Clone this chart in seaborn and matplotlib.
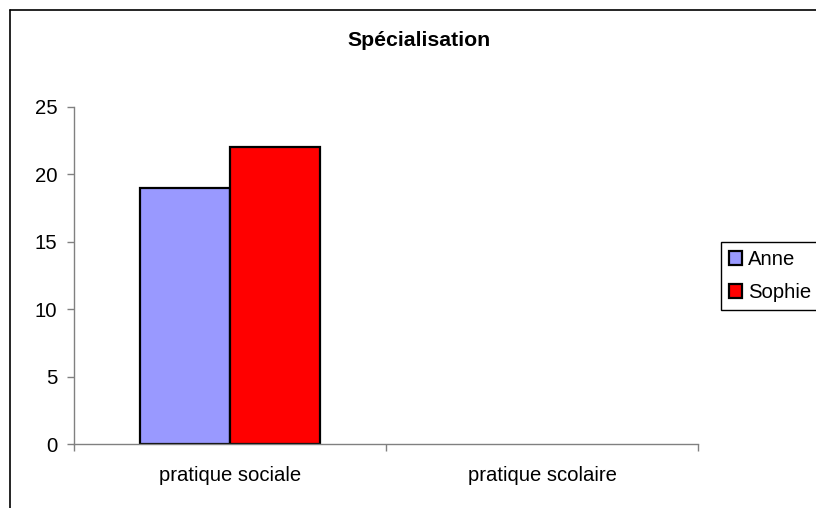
import numpy as np
import pandas as pd
import matplotlib
matplotlib.use("Agg")
import matplotlib.pyplot as plt
from matplotlib.lines import Line2D
import seaborn as sns

categories = ["pratique sociale", "pratique scolaire"]
series = ["Anne", "Sophie"]
anne = [19, np.nan]
sophie = [22, np.nan]
yticks = [0, 5, 10, 15, 20, 25]
title = "Spécialisation"
colors = {"Anne": "#9999FF", "Sophie": "#FF0000"}

sns.set_theme(style="white")
plt.rcParams["font.family"] = ["Liberation Sans", "DejaVu Sans"]
plt.rcParams["text.color"] = "black"

df = pd.DataFrame({
    "cat": categories * 2,
    "serie": [series[0]] * 2 + [series[1]] * 2,
    "val": anne + sophie,
}).dropna()

W, H = 816, 508
fig = plt.figure(figsize=(W / 100, H / 100), dpi=100)
ax = fig.add_axes([74 / W, 1 - 444 / H, (698 - 74) / W, (444 - 107) / H])

sns.barplot(data=df, x="cat", y="val", hue="serie", order=categories,
            hue_order=series, palette=colors, width=0.577, edgecolor="black",
            linewidth=1.6, saturation=1, errorbar=None, ax=ax, legend=False)

ax.set_xlim(-0.5, 1.5)
ax.set_ylim(0, 25)
ax.set_yticks(yticks)
ax.set_xlabel("")
ax.set_ylabel("")
for s in ["top", "right"]:
    ax.spines[s].set_visible(False)
for s in ["left", "bottom"]:
    ax.spines[s].set_color("#808080")
    ax.spines[s].set_linewidth(1.0)

fs = 14.6
ax.set_xticks([0, 1])
ax.set_xticklabels(categories)
ax.set_xticks([-0.5, 0.5, 1.5], minor=True)
ax.tick_params(axis="x", which="major", length=0, pad=16, labelsize=fs, labelcolor="black")
ax.tick_params(axis="x", which="minor", length=5, width=1, color="#808080", direction="out", bottom=True)
ax.tick_params(axis="y", which="major", length=5, width=1, color="#808080", direction="out",
               left=True, pad=7, labelsize=fs, labelcolor="black")

fig.text(0.513, 1 - 40 / H, title, ha="center", va="center", fontsize=15.3,
         fontweight="bold", color="black")

handles = [plt.Rectangle((0, 0), 1, 1, facecolor=colors[s], edgecolor="black", linewidth=1.6) for s in series]
leg = ax.legend(handles, series, loc="center left", bbox_to_anchor=(721 / W, 1 - 276 / H),
                bbox_transform=fig.transFigure, frameon=True, fancybox=False,
                edgecolor="black", framealpha=1, fontsize=fs, handlelength=0.65,
                handleheight=0.65, handletextpad=0.3, labelspacing=0.7, borderpad=0.4,
                borderaxespad=0)
for t in leg.get_texts():
    t.set_color("black")
leg.get_frame().set_linewidth(1.0)

fig.add_artist(Line2D([10 / W, 10 / W], [0, 1 - 10 / H], transform=fig.transFigure, color="black", linewidth=1.2))
fig.add_artist(Line2D([10 / W, 1], [1 - 10 / H, 1 - 10 / H], transform=fig.transFigure, color="black", linewidth=1.2))

fig.savefig("out.png", dpi=100)
